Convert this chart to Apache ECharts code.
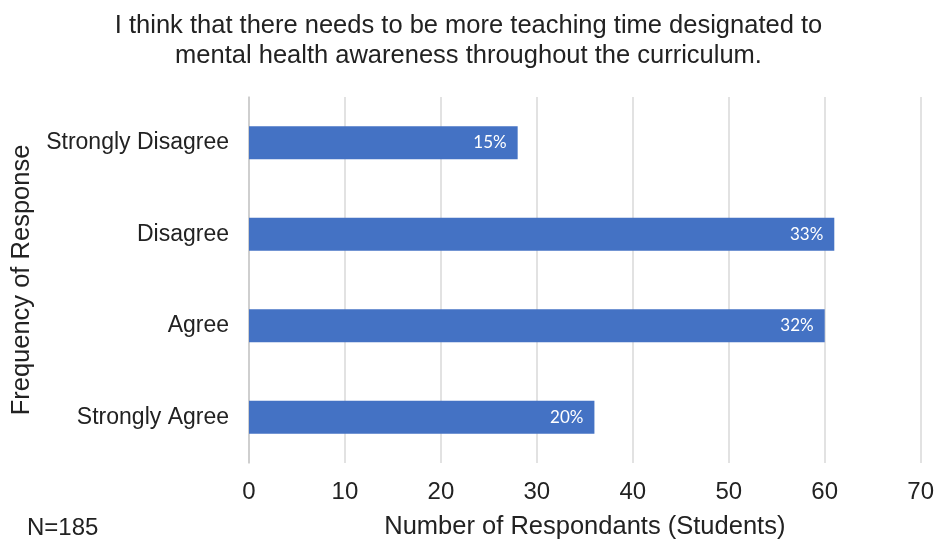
<!DOCTYPE html>
<html>
<head>
<meta charset="utf-8">
<script src="https://cdn.jsdelivr.net/npm/echarts@6/dist/echarts.min.js"></script>
<style>html,body{margin:0;padding:0;background:#fff}#c{width:937px;height:545px}</style>
</head>
<body>
<div id="c"></div>
<script>
var categories = ['Strongly Disagree', 'Disagree', 'Agree', 'Strongly Agree'];
var counts = [28, 61, 60, 36];
var percentLabels = ['15%', '33%', '32%', '20%'];
var xTicks = [0, 10, 20, 30, 40, 50, 60, 70];

var chart = echarts.init(document.getElementById('c'));
var font = 'Liberation Sans, Arial, sans-serif';
chart.setOption({
  animation: false,
  title: {
    text: 'I think that there needs to be more teaching time designated to\nmental health awareness throughout the curriculum.',
    left: 'center', top: 6,
    textStyle: { fontFamily: font, fontSize: 25.5, fontWeight: 'normal', color: '#222', lineHeight: 30 }
  },
  graphic: [{
    type: 'text', left: 27, top: 516,
    style: { text: 'N=185', fontFamily: font, fontSize: 24, fill: '#222' }
  }],
  grid: { left: 249, right: 16, top: 97, bottom: 78 },
  xAxis: {
    type: 'value', min: 0, max: 70, interval: 10,
    name: 'Number of Respondants (Students)', nameLocation: 'middle', nameGap: 51,
    nameTextStyle: { fontFamily: font, fontSize: 25.5, color: '#222' },
    axisLine: { show: false }, axisTick: { show: false },
    axisLabel: { fontFamily: font, fontSize: 24, color: '#222', margin: 17 },
    splitLine: { lineStyle: { color: '#d9d9d9', width: 1.5 } }
  },
  yAxis: {
    type: 'category', data: categories, inverse: true,
    name: 'Frequency of Response', nameLocation: 'middle', nameGap: 208, nameRotate: 90,
    nameTextStyle: { fontFamily: font, fontSize: 25.5, color: '#222' },
    axisLine: { show: true, lineStyle: { color: '#c8c8c8', width: 1.5 } },
    axisTick: { show: false },
    axisLabel: { fontFamily: font, fontSize: 23, color: '#222', margin: 20 }
  },
  series: [{
    type: 'bar', data: counts, barWidth: '36%',
    itemStyle: { color: '#4472C4' },
    label: {
      show: true, position: 'insideRight', distance: 11,
      formatter: function (p) { return percentLabels[p.dataIndex]; },
      fontFamily: 'Lato, sans-serif', fontSize: 17, color: '#fff'
    }
  }]
});
</script>
</body>
</html>
